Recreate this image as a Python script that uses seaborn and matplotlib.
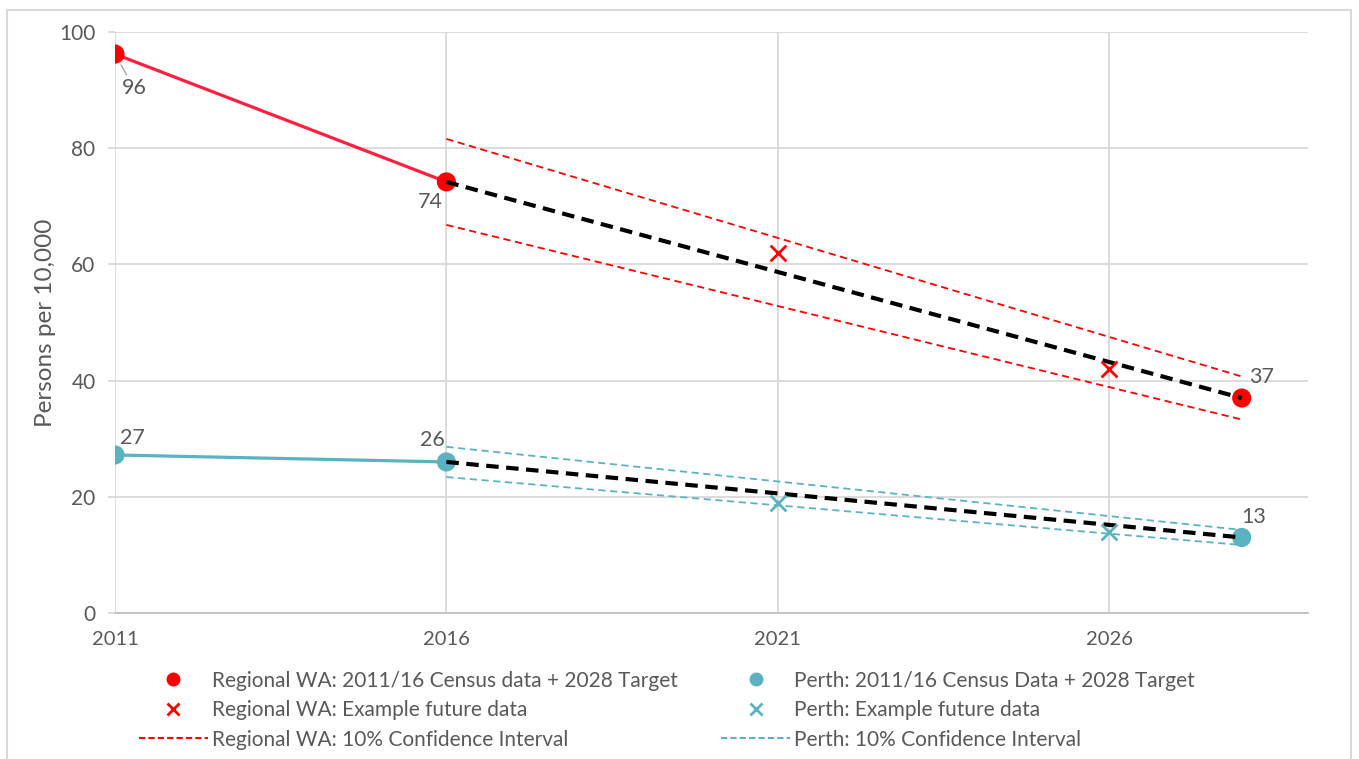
import pandas as pd
import numpy as np
import matplotlib.pyplot as plt
import seaborn as sns
from matplotlib.lines import Line2D
from matplotlib.patches import Rectangle

# Data
census_years = [2011, 2016, 2028]
regional_census = [96.2, 74.2, 37.0]
perth_census = [27.2, 26.0, 13.0]

future_years = [2021, 2026]
regional_future = [62.0, 42.0]
perth_future = [18.9, 13.9]

ci_years = [2016, 2028]
regional_ci_upper = [81.6, 40.7]
regional_ci_lower = [66.8, 33.3]
perth_ci_upper = [28.6, 14.3]
perth_ci_lower = [23.4, 11.7]

label_text = ["96", "74", "37"]
perth_label_text = ["27", "26", "13"]

RED_LINE = "#FF1F3F"
RED = "#FF0000"
TEAL = "#5BB2C1"
GREY_TXT = "#595959"

sns.set_theme(style="white")
plt.rcParams["font.family"] = ["Lato", "DejaVu Sans"]

fig = plt.figure(figsize=(13.59, 7.59), dpi=100)
ax = fig.add_axes([115 / 1359, 1 - 613 / 759, (1308 - 115) / 1359, (613 - 32) / 759])

# outer chart border
fig.patches.append(Rectangle((7 / 1359, -0.05), (1351 - 7) / 1359, 1.05 - 10 / 759,
                             transform=fig.transFigure, fill=False,
                             edgecolor="#D9D9D9", linewidth=1.5))

reg = pd.DataFrame({"Year": census_years, "Value": regional_census})
per = pd.DataFrame({"Year": census_years, "Value": perth_census})

# solid census segments 2011-2016
sns.lineplot(data=reg.iloc[:2], x="Year", y="Value", color=RED_LINE, linewidth=2.3, ax=ax, zorder=3)
sns.lineplot(data=per.iloc[:2], x="Year", y="Value", color=TEAL, linewidth=2.3, ax=ax, zorder=3)

# confidence intervals
for up, lo, col in [(regional_ci_upper, regional_ci_lower, RED), (perth_ci_upper, perth_ci_lower, TEAL)]:
    for vals in (up, lo):
        d = pd.DataFrame({"Year": ci_years, "Value": vals})
        sns.lineplot(data=d, x="Year", y="Value", color=col, linewidth=1.3,
                     linestyle=(0, (4, 2.5)), ax=ax, zorder=3)

# census markers
sns.scatterplot(data=reg, x="Year", y="Value", color=RED, s=190, edgecolor="none", ax=ax, zorder=4)
sns.scatterplot(data=per, x="Year", y="Value", color=TEAL, s=190, edgecolor="none", ax=ax, zorder=4)

# target trend lines 2016-2028
sns.lineplot(data=reg.iloc[1:], x="Year", y="Value", color="black", linewidth=3,
             linestyle=(0, (3, 1.8)), ax=ax, zorder=5)
sns.lineplot(data=per.iloc[1:], x="Year", y="Value", color="black", linewidth=3,
             linestyle=(0, (3, 1.8)), ax=ax, zorder=5)

# example future data
fr = pd.DataFrame({"Year": future_years, "Value": regional_future})
fp = pd.DataFrame({"Year": future_years, "Value": perth_future})
sns.scatterplot(data=fr, x="Year", y="Value", color=RED, marker="x", s=130, linewidth=2, ax=ax, zorder=6)
sns.scatterplot(data=fp, x="Year", y="Value", color=TEAL, marker="x", s=130, linewidth=2, ax=ax, zorder=6)

# data labels (pixel offsets)
reg_offsets = [(19, -34), (-16, -20), (20, 21)]
per_offsets = [(17, 17), (-14, 22), (12, 20)]
for yr, v, t, off in zip(census_years, regional_census, label_text, reg_offsets):
    ap = dict(arrowstyle="-", color="#A6A6A6", lw=1, shrinkA=0, shrinkB=9) if yr == 2011 else None
    ax.annotate(t, (yr, v), xytext=off, textcoords="offset pixels", ha="center", va="center",
                fontsize=15.5, color=GREY_TXT, arrowprops=ap, zorder=7)
for yr, v, t, off in zip(census_years, perth_census, perth_label_text, per_offsets):
    ax.annotate(t, (yr, v), xytext=off, textcoords="offset pixels", ha="center", va="center",
                fontsize=15.5, color=GREY_TXT, zorder=7)

ax.set_xlim(2011, 2029)
ax.set_ylim(0, 100)
ax.set_xticks([2011, 2016, 2021, 2026])
ax.set_yticks([0, 20, 40, 60, 80, 100])
ax.grid(True, color="#D9D9D9", linewidth=1.3)
ax.set_axisbelow(True)
for s in ["top", "right", "left"]:
    ax.spines[s].set_visible(False)
ax.spines["bottom"].set_color("#BFBFBF")
ax.spines["bottom"].set_linewidth(1.3)
ax.tick_params(axis="x", length=0, pad=13, labelsize=14.5, labelcolor=GREY_TXT)
ax.tick_params(axis="y", length=5, width=1.3, color="#D9D9D9", pad=9, labelsize=15,
               labelcolor=GREY_TXT, left=True)
ax.set_xlabel("")
ax.set_ylabel("Persons per 10,000", fontsize=17.5, color=GREY_TXT, labelpad=2)

handles = [
    Line2D([], [], marker="o", color=RED, linestyle="none", markersize=9),
    Line2D([], [], marker="x", color=RED, linestyle="none", markersize=9, markeredgewidth=2),
    Line2D([], [], color=RED, linestyle=(0, (3, 1.5)), linewidth=1.5),
    Line2D([], [], marker="o", color=TEAL, linestyle="none", markersize=9),
    Line2D([], [], marker="x", color=TEAL, linestyle="none", markersize=9, markeredgewidth=2),
    Line2D([], [], color=TEAL, linestyle=(0, (3, 1.5)), linewidth=1.5),
]
labels = [
    "Regional WA: 2011/16 Census data + 2028 Target",
    "Regional WA: Example future data",
    "Regional WA: 10% Confidence Interval",
    "Perth: 2011/16 Census Data + 2028 Target",
    "Perth: Example future data",
    "Perth: 10% Confidence Interval",
]
leg = fig.legend(handles, labels, ncol=2, loc="upper left", bbox_to_anchor=(120 / 1359, 1 - 652 / 759),
                 frameon=False, fontsize=15, handlelength=3.3, handletextpad=0.2,
                 columnspacing=2.1, labelspacing=0.45)
for t in leg.get_texts():
    t.set_color(GREY_TXT)

fig.savefig("out.png", dpi=100)
